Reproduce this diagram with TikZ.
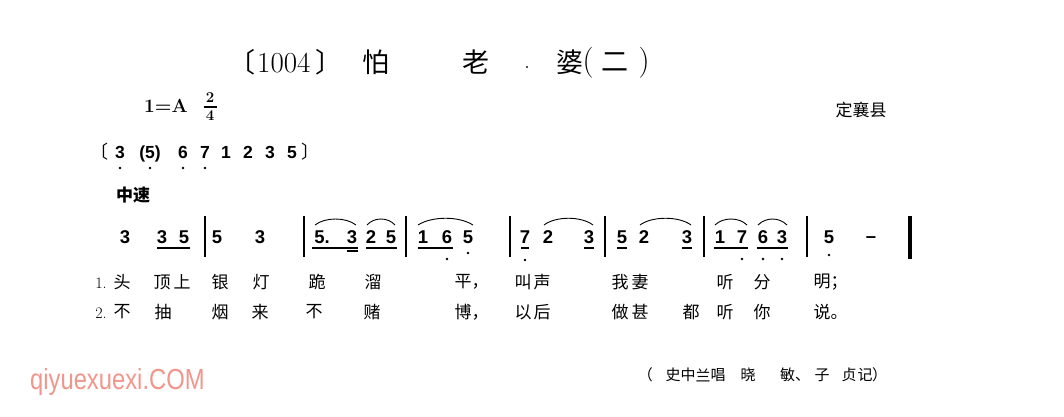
\documentclass[tikz,border=0pt]{standalone}
\usepackage{fontspec}
\newfontfamily\cjk{Noto Sans CJK SC}
\newfontfamily\numf{Liberation Sans}
\begin{document}
\begin{tikzpicture}[x=1pt,y=-1pt,
  nt/.style={font=\numf\bfseries\fontsize{18.5}{18.5}\selectfont, inner sep=0pt, text height=13pt, text depth=0pt},
  it/.style={font=\numf\bfseries\fontsize{17.5}{17.5}\selectfont, inner sep=0pt, text height=12pt, text depth=0pt},
  ly/.style={font=\cjk\fontsize{17}{17}\selectfont, inner sep=0pt},
  lyn/.style={font=\rmfamily\fontsize{16}{16}\selectfont, inner sep=0pt},
  tt/.style={font=\cjk\fontsize{27}{27}\selectfont, inner sep=0pt},
  cr/.style={font=\cjk\fontsize{15}{15}\selectfont, inner sep=0pt},
  barl/.style={line width=1.1pt},
  beam/.style={line width=1.3pt},
  slur/.style={line width=0.9pt},
]
\fill[white] (0,0) rectangle (1064,416);
\useasboundingbox (0,0) rectangle (1064,416);

% ---------- title ----------
\node[tt, anchor=east] (tb1) at (256,62) {〔};
\node[font=\rmfamily\fontsize{29}{29}\selectfont, inner sep=0pt, anchor=west] (t1004) at (257,63) {1004};
\node[tt, anchor=west] (tb2) at (315,62) {〕};
\node[tt] (tpa) at (376,62) {怕};
\node[tt] (tlao) at (476,62) {老};
\node[font=\rmfamily\fontsize{24}{24}\selectfont, inner sep=0pt] (tdot) at (527,68) {.};
\node[tt] (tpo) at (570,62) {婆};
\node[font=\rmfamily\fontsize{31}{31}\selectfont, inner sep=0pt] (tp1) at (588,63) {(};
\node[tt] (ter) at (615,62) {二};
\node[font=\rmfamily\fontsize{31}{31}\selectfont, inner sep=0pt] (tp2) at (644,63) {)};

% ---------- key / place ----------
\node[font=\rmfamily\bfseries\fontsize{19}{19}\selectfont, inner sep=0pt, anchor=west] (key) at (144,106) {1{=}A};
\node[font=\rmfamily\bfseries\fontsize{15}{15}\selectfont, inner sep=0pt] (ts2) at (210,98) {2};
\node[font=\rmfamily\bfseries\fontsize{15}{15}\selectfont, inner sep=0pt] (ts4) at (210,116) {4};
\draw[line width=1.1pt] ([xshift=-6.5pt]ts2.south |- 0,107) -- ([xshift=6.5pt]ts2.south |- 0,107);
\node[font=\cjk\fontsize{17}{17}\selectfont, inner sep=0pt] (place) at (861,110) {定襄县};

% ---------- intro ----------
\node[font=\cjk\fontsize{18}{18}\selectfont, inner sep=0pt, anchor=east] (ib1) at (109,152) {〔};
\node[it] (i1) at (120,152) {3};
\node[it] (i2) at (150,152) {(5)};
\node[it] (i3) at (183,152) {6};
\node[it] (i4) at (205,152) {7};
\node[it] (i5) at (226,152) {1};
\node[it] (i6) at (248,152) {2};
\node[it] (i7) at (270,152) {3};
\node[it] (i8) at (292,152) {5};
\node[font=\cjk\fontsize{18}{18}\selectfont, inner sep=0pt, anchor=west] (ib2) at (301,152) {〕};
\foreach \n in {i1,i2,i3,i4} \fill ([yshift=-16pt]\n.center) circle (1.3);

\node[font=\cjk\bfseries\fontsize{17}{17}\selectfont, inner sep=0pt] (tempo) at (133,195) {中速};

% ---------- melody ----------
\node[nt] (a1) at (125,237) {3};
\node[nt] (a2) at (162,237) {3};
\node[nt] (a3) at (184,237) {5};
\coordinate (b1) at (205,237);
\node[nt] (a4) at (217,237) {5};
\node[nt] (a5) at (260,237) {3};
\coordinate (b2) at (304,237);
\node[nt] (c1) at (322,237) {5.};
\node[nt] (c2) at (352,237) {3};
\node[nt] (c3) at (371,237) {2};
\node[nt] (c4) at (391,237) {5};
\coordinate (b3) at (406,237);
\node[nt] (d1) at (423,237) {1};
\node[nt] (d2) at (447,237) {6};
\node[nt] (d3) at (468,237) {5};
\coordinate (b4) at (510,237);
\node[nt] (e1) at (525,237) {7};
\node[nt] (e2) at (548,237) {2};
\node[nt] (e3) at (589,237) {3};
\coordinate (b5) at (605,237);
\node[nt] (f1) at (622,237) {5};
\node[nt] (f2) at (644,237) {2};
\node[nt] (f3) at (687,237) {3};
\coordinate (b6) at (704,237);
\node[nt] (g1) at (720,237) {1};
\node[nt] (g2) at (742,237) {7};
\node[nt] (g3) at (763,237) {6};
\node[nt] (g4) at (782,237) {3};
\coordinate (b7) at (807,237);
\node[nt] (h1) at (829,237) {5};
\node[nt] (h2) at (871,236) {–};
\coordinate (b8) at (910,238);

% bar lines
\foreach \b in {b1,b2,b3,b4,b5,b6,b7}
  \draw[barl] ([yshift=21pt]\b) -- ([yshift=-20pt]\b);
\draw[line width=3.6pt] ([yshift=22pt]b8) -- ([yshift=-21pt]b8);

% beams (underlines)
\draw[beam] ([shift={(-5,11)}]a2.center) -- ([shift={(6,11)}]a3.center);
\draw[beam] ([shift={(-10,11)}]c1.center) -- ([shift={(6,11)}]c2.center);
\draw[beam] ([shift={(-5,14)}]c2.center) -- ([shift={(6,14)}]c2.center);
\draw[beam] ([shift={(-5,11)}]c3.center) -- ([shift={(6,11)}]c4.center);
\draw[beam] ([shift={(-5,11)}]d1.center) -- ([shift={(6,11)}]d2.center);
\draw[beam] ([shift={(-4,11)}]e1.center) -- ([shift={(4,11)}]e1.center);
\draw[beam] ([shift={(-5,11)}]e3.center) -- ([shift={(5,11)}]e3.center);
\draw[beam] ([shift={(-5,11)}]f1.center) -- ([shift={(5,11)}]f1.center);
\draw[beam] ([shift={(-5,11)}]f3.center) -- ([shift={(5,11)}]f3.center);
\draw[beam] ([shift={(-6,11)}]g1.center) -- ([shift={(6,11)}]g2.center);
\draw[beam] ([shift={(-6,11)}]g3.center) -- ([shift={(6,11)}]g4.center);

% low-octave dots
\fill ([shift={(0,22)}]d2.center) circle (1.3);
\fill ([shift={(0,16)}]d3.center) circle (1.3);
\fill ([shift={(0,23)}]e1.center) circle (1.3);
\fill ([shift={(0,22)}]g2.center) circle (1.3);
\fill ([shift={(0,22)}]g3.center) circle (1.3);
\fill ([shift={(0,22)}]g4.center) circle (1.3);
\fill ([shift={(0,18)}]h1.center) circle (1.3);

% slurs
\draw[slur] ([shift={(-7,-12)}]c1.center) .. controls +(10,-8) and +(-10,-8) .. ([shift={(4,-12)}]c2.center);
\draw[slur] ([shift={(-4,-12)}]c3.center) .. controls +(7,-8) and +(-7,-8) .. ([shift={(4,-12)}]c4.center);
\draw[slur] ([shift={(-5,-12)}]d1.center) .. controls +(14,-9) and +(-14,-9) .. ([shift={(5,-12)}]d3.center);
\draw[slur] ([shift={(-4,-12)}]e2.center) .. controls +(12,-9) and +(-12,-9) .. ([shift={(4,-12)}]e3.center);
\draw[slur] ([shift={(-4,-12)}]f2.center) .. controls +(12,-9) and +(-12,-9) .. ([shift={(4,-12)}]f3.center);
\draw[slur] ([shift={(-5,-12)}]g1.center) .. controls +(8,-8) and +(-8,-8) .. ([shift={(5,-12)}]g2.center);
\draw[slur] ([shift={(-5,-12)}]g3.center) .. controls +(8,-8) and +(-8,-8) .. ([shift={(5,-12)}]g4.center);

% ---------- lyrics ----------
\node[lyn] (v1) at (101,283) {1.};
\node[ly] (l1a) at (122,282) {头};
\node[ly] (l1b) at (162,282) {顶};
\node[ly] (l1c) at (182,282) {上};
\node[ly] (l1d) at (220,282) {银};
\node[ly] (l1e) at (261,282) {灯};
\node[ly] (l1f) at (317,282) {跪};
\node[ly] (l1g) at (373,282) {溜};
\node[ly, anchor=west] (l1h) at (454.5,282) {平，};
\node[ly] (l1i) at (523,282) {叫};
\node[ly] (l1j) at (542,282) {声};
\node[ly] (l1k) at (620,282) {我};
\node[ly] (l1l) at (640,282) {妻};
\node[ly] (l1m) at (725,282) {听};
\node[ly] (l1n) at (762,282) {分};
\node[ly, anchor=west] (l1o) at (813.5,282) {明；};

\node[lyn] (v2) at (101,313) {2.};
\node[ly] (l2a) at (122,312) {不};
\node[ly] (l2b) at (163,312) {抽};
\node[ly] (l2c) at (220,312) {烟};
\node[ly] (l2d) at (260,312) {来};
\node[ly] (l2e) at (314,312) {不};
\node[ly] (l2f) at (372,312) {赌};
\node[ly, anchor=west] (l2g) at (454.5,312) {博，};
\node[ly] (l2h) at (523,312) {以};
\node[ly] (l2i) at (542,312) {后};
\node[ly] (l2j) at (620,312) {做};
\node[ly] (l2k) at (640,312) {甚};
\node[ly] (l2l) at (691,312) {都};
\node[ly] (l2m) at (725,312) {听};
\node[ly] (l2n) at (762,312) {你};
\node[ly, anchor=west] (l2o) at (813.5,312) {说。};

% ---------- credits ----------
\node[cr, anchor=east] (cp1) at (653,375) {（};
\node[cr] (c1a) at (673,375) {史};
\node[cr] (c1b) at (688,375) {中};
\node[cr] (c1c) at (703,375) {兰};
\node[cr] (c1d) at (718,375) {唱};
\node[cr] (c1e) at (748,375) {晓};
\node[cr, anchor=west] (c1f) at (780,375) {敏、};
\node[cr] (c1g) at (822,375) {子};
\node[cr] (c1h) at (849,375) {贞};
\node[cr] (c1i) at (865,375) {记};
\node[cr, anchor=west] (cp2) at (872,375) {）};

% ---------- watermark ----------
\node[font=\numf\fontsize{29}{29}\selectfont, text={rgb,255:red,242;green,150;blue,140}, inner sep=0pt, anchor=west, xscale=0.82] (wm) at (30,382) {qiyuexuexi.COM};
\end{tikzpicture}
\end{document}
